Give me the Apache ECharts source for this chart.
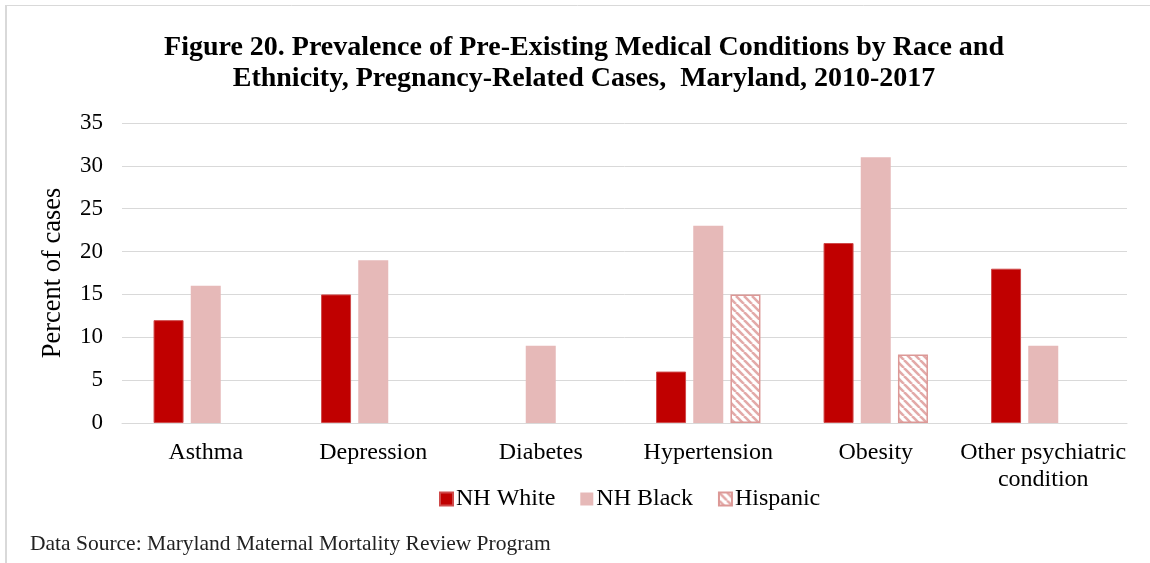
<!DOCTYPE html>
<html>
<head>
<meta charset="utf-8">
<style>
html,body{margin:0;padding:0;background:#fff;}
#chart{width:1150px;height:563px;}
</style>
<script src="https://cdn.jsdelivr.net/npm/echarts@6/dist/echarts.min.js"></script>
</head>
<body>
<div id="chart"></div>
<script>
const categories = ['Asthma', 'Depression', 'Diabetes', 'Hypertension', 'Obesity', 'Other psychiatric\ncondition'];
const nhWhite = [12, 15, null, 6, 21, 18];
const nhBlack = [16, 19, 9, 23, 31, 9];
const hispanic = [null, null, null, 15, 8, null];
const yTicks = [0, 5, 10, 15, 20, 25, 30, 35];

const serif = '"Liberation Serif", "Times New Roman", serif';

function makeHatch() {
  const c = document.createElement('canvas');
  c.width = 8; c.height = 8;
  const ctx = c.getContext('2d');
  ctx.fillStyle = '#ffffff';
  ctx.fillRect(0, 0, 8, 8);
  ctx.strokeStyle = '#e3a9a8';
  ctx.lineWidth = 2.6;
  for (const o of [-8, 0, 8]) {
    ctx.beginPath();
    ctx.moveTo(o, 0);
    ctx.lineTo(o + 8, 8);
    ctx.stroke();
  }
  return c;
}
const hatch = { image: makeHatch(), repeat: 'repeat' };

const chart = echarts.init(document.getElementById('chart'), null, { renderer: 'canvas' });
chart.setOption({
  animation: false,
  backgroundColor: '#ffffff',
  title: {
    text: 'Figure 20. Prevalence of Pre-Existing Medical Conditions by Race and\nEthnicity, Pregnancy-Related Cases,  Maryland, 2010-2017',
    left: 579,
    textAlign: 'center',
    top: 27,
    textStyle: { fontFamily: serif, fontWeight: 'bold', fontSize: 28, color: '#000', lineHeight: 31 }
  },
  graphic: [
    { type: 'line', shape: { x1: 5, y1: 5.5, x2: 1150, y2: 5.5 }, style: { stroke: '#d9d9d9', lineWidth: 1 } },
    { type: 'line', shape: { x1: 6, y1: 5, x2: 6, y2: 563 }, style: { stroke: '#d9d9d9', lineWidth: 2 } },
    { type: 'text', left: 30, top: 533, style: { text: 'Data Source: Maryland Maternal Mortality Review Program', font: '21.5px ' + serif, fill: '#222' } }
  ],
  legend: {
    data: ['NH White', 'NH Black', 'Hispanic'],
    left: 434,
    top: 482,
    itemWidth: 13,
    itemHeight: 13,
    itemGap: 25,
    icon: 'rect',
    textStyle: { fontFamily: serif, fontSize: 24, color: '#000', padding: [0, 0, 0, -2] }
  },
  grid: { left: 122, right: 23, top: 123, bottom: 140 },
  xAxis: {
    type: 'category',
    data: categories,
    axisLine: { show: true, lineStyle: { color: '#d9d9d9', width: 1 } },
    axisTick: { show: false },
    axisLabel: { fontFamily: serif, fontSize: 24, color: '#000', margin: 16, lineHeight: 27, interval: 0 }
  },
  yAxis: {
    type: 'value',
    min: 0,
    max: 35,
    interval: 5,
    name: 'Percent of cases',
    nameLocation: 'middle',
    nameGap: 55,
    nameRotate: 90,
    nameTextStyle: { fontFamily: serif, fontSize: 26.5, color: '#000' },
    axisLine: { show: false },
    axisTick: { show: false },
    axisLabel: { fontFamily: serif, fontSize: 23, color: '#000', margin: 19,
      formatter: v => yTicks.includes(v) ? String(v) : '' },
    splitLine: { lineStyle: { color: '#d9d9d9', width: 1 } }
  },
  series: [
    {
      name: 'NH White', type: 'bar', data: nhWhite, barWidth: 30, barGap: '24%',
      itemStyle: { color: '#c00000', borderColor: '#cf4a4a', borderWidth: 1 }
    },
    {
      name: 'NH Black', type: 'bar', data: nhBlack, barWidth: 30, barGap: '24%',
      itemStyle: { color: '#e6b9b8' }
    },
    {
      name: 'Hispanic', type: 'bar', data: hispanic, barWidth: 30, barGap: '24%',
      itemStyle: { color: hatch, borderColor: '#dc9896', borderWidth: 1.5 }
    }
  ]
});
</script>
</body>
</html>
